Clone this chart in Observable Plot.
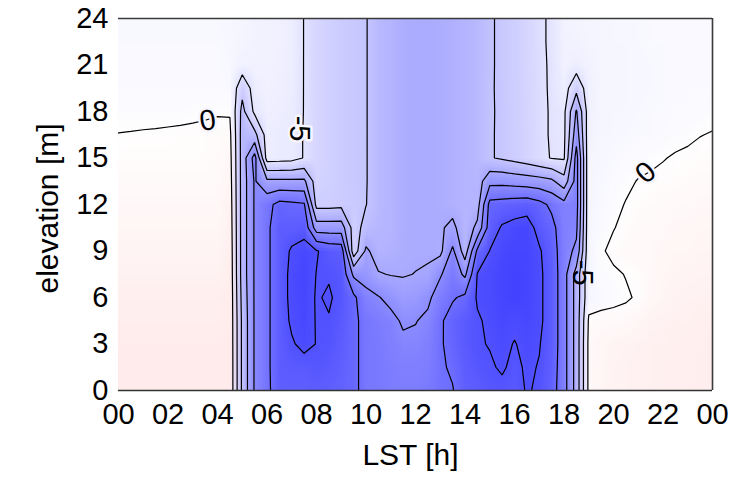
<!DOCTYPE html>
<html><head><meta charset="utf-8">
<script src="https://cdn.jsdelivr.net/npm/d3@7"></script>
<script src="https://cdn.jsdelivr.net/npm/@observablehq/plot@0.6"></script>
<style>
body{margin:0;background:#fff;}
</style></head><body><div id="chart"></div>
<script>
// time of day (LST, h) of each profile column
const hours = [0,0.5,1,1.5,2,2.5,3,3.5,4,4.5,5,5.5,6,6.5,7,7.5,8,8.5,9,9.5,10,10.5,11,11.5,12,12.5,13,13.5,14,14.5,15,15.5,16,16.5,17,17.5,18,18.5,19,19.5,20,20.5,21,21.5,22,22.5,23,23.5,24];
// elevation (m) of each profile level
const elevations = [0,1.5,3,4.5,6,7.5,9,10.5,12,13.5,15,16.5,18,19.5,21,22.5,24];
// one vertical profile (bottom -> top) per hour in `hours`
const profiles = [
/* 0   */ [3.5,3.4,3.2,3.0,2.7,2.3,1.9,1.5,1.2,0.9,0.6,0.05,-0.6,-0.8,-1.0,-1.1,-1.2],
/* 0.5 */ [3.5,3.4,3.2,3.0,2.7,2.3,1.9,1.5,1.2,0.9,0.6,0.1,-0.6,-0.8,-1.0,-1.1,-1.2],
/* 1   */ [3.5,3.4,3.2,3.0,2.7,2.3,1.9,1.5,1.2,0.9,0.6,0.15,-0.55,-0.8,-1.0,-1.1,-1.2],
/* 1.5 */ [3.5,3.4,3.2,3.0,2.7,2.3,1.9,1.5,1.2,0.9,0.6,0.2,-0.55,-0.8,-1.0,-1.1,-1.2],
/* 2   */ [3.5,3.4,3.2,3.0,2.7,2.3,1.9,1.5,1.2,0.9,0.6,0.25,-0.5,-0.8,-1.0,-1.1,-1.2],
/* 2.5 */ [3.5,3.4,3.2,3.0,2.7,2.3,1.9,1.5,1.2,0.9,0.6,0.3,-0.45,-0.8,-1.0,-1.1,-1.2],
/* 3   */ [3.5,3.4,3.2,3.0,2.7,2.3,1.9,1.5,1.2,0.9,0.6,0.4,-0.4,-0.8,-1.0,-1.1,-1.2],
/* 3.5 */ [3.5,3.4,3.2,3.0,2.7,2.3,1.9,1.5,1.2,0.9,0.6,0.5,-0.3,-0.8,-1.0,-1.1,-1.2],
/* 4   */ [3.5,3.4,3.2,3.0,2.7,2.3,1.9,1.5,1.2,0.9,0.7,0.7,-0.2,-0.8,-1.0,-1.1,-1.2],
/* 4.5 */ [3.5,3.5,3.4,3.3,3.2,3.0,2.8,2.5,2.2,1.8,1.4,0.9,-0.3,-1.0,-1.2,-1.3,-1.4],
/* 5   */ [-11,-11,-11,-11,-11.5,-12,-12,-12,-12,-12,-12,-12,-11.5,-8.5,-2.5,-1.8,-1.5],
/* 5.5 */ [-20.5,-20.5,-20.5,-20.5,-20.5,-20.5,-20.5,-20.5,-20.5,-20.5,-22,-11.5,-4,-3,-2.2,-2,-2],
/* 6   */ [-24,-24,-24,-24,-24,-24,-24,-24,-23.5,-16,-3,-3,-2.8,-2.5,-2.3,-2.2,-2.2],
/* 6.5 */ [-27.5,-28,-28,-28,-28,-28,-28,-28,-26.5,-16,-3.2,-3.2,-3,-2.8,-2.6,-2.5,-2.5],
/* 7   */ [-27.5,-28.5,-29.6,-30.6,-31,-31,-30.5,-28,-26,-16,-3.5,-3.5,-3.3,-3.1,-3,-2.9,-2.9],
/* 7.5 */ [-27.5,-28.5,-31,-31.5,-31.8,-32,-31.5,-28.5,-25.5,-16,-5.2,-5.2,-5.1,-5.1,-5.1,-5.1,-5.1],
/* 8   */ [-28,-29,-29.9,-29.8,-29.7,-29.9,-30.3,-17.5,-8.5,-7.5,-7,-7,-7,-7,-7,-7,-7],
/* 8.5 */ [-27.5,-28.5,-29.3,-29.8,-30.4,-29.7,-28.5,-17.5,-8.5,-8,-8,-8,-8,-8,-8,-8,-8],
/* 9   */ [-27,-27.5,-28,-28.5,-29,-28.8,-28,-17.5,-8.8,-8.8,-8.8,-8.8,-8.8,-8.8,-8.8,-8.8,-8.8],
/* 9.5 */ [-26,-26,-26,-26,-26,-19,-7,-8,-9,-9.4,-9.4,-9.4,-9.4,-9.4,-9.4,-9.4,-9.4],
/* 10  */ [-23.5,-23.5,-23.5,-23.5,-21.5,-18,-15.8,-11.5,-9.9,-9.8,-9.8,-9.8,-9.8,-9.8,-9.8,-9.8,-9.8],
/* 10.5*/ [-23,-23,-23,-22.5,-20.3,-15.3,-13,-12.5,-12,-12,-12,-12,-12,-12,-12,-12,-12],
/* 11  */ [-22.5,-22.5,-22,-21.5,-18.5,-14.8,-13.5,-13,-13,-13,-13,-13,-13,-13,-13,-13,-13],
/* 11.5*/ [-22.5,-22,-21,-19.3,-17,-14.7,-14,-14,-14,-14,-14,-14,-14,-14,-14,-14,-14],
/* 12  */ [-22.5,-22,-21,-19.8,-17.5,-15.1,-14.3,-14.5,-14.5,-14.5,-14.5,-14.5,-14.5,-14.5,-14.5,-14.5,-14.5],
/* 12.5*/ [-23,-22.5,-22,-21,-19,-15.6,-14.3,-14.5,-14.5,-14.5,-14.5,-14.5,-14.5,-14.5,-14.5,-14.5,-14.5],
/* 13  */ [-24.3,-24.5,-24.5,-24.3,-22.5,-19.5,-13.8,-14.5,-14,-14,-14,-14,-14,-14,-14,-14,-14],
/* 13.5*/ [-24.8,-25.5,-26.5,-27,-24.5,-23,-21,-16,-13.5,-13.5,-13.5,-13.5,-13.5,-13.5,-13.5,-13.5,-13.5],
/* 14  */ [-27.5,-28,-28.5,-28.5,-26,-19,-12.5,-12.5,-13,-13,-13,-13,-13,-13,-13,-13,-13],
/* 14.5*/ [-28,-29,-29.6,-29.5,-30.5,-30.2,-26,-16,-13,-12.5,-12,-12,-12,-12,-12,-12,-12],
/* 15  */ [-29,-29.5,-30.2,-30.8,-31,-31,-30.1,-27.5,-26.5,-18.5,-10.3,-10.3,-10.4,-10.4,-10.5,-10.5,-10.5],
/* 15.5*/ [-29,-30.5,-31,-31.5,-32,-32,-31.5,-30.5,-27,-18.5,-9.5,-9.5,-9.4,-9.3,-9.2,-9.2,-9.2],
/* 16  */ [-28.5,-29,-29.8,-31,-32.5,-32.5,-32,-31.5,-27.5,-18,-8.5,-8.5,-8.4,-8.3,-8.2,-8.2,-8.2],
/* 16.5*/ [-30.3,-30.6,-31,-31.5,-32,-32,-32,-32,-28,-17.5,-7.5,-7.4,-7.3,-7.2,-7.1,-7,-7],
/* 17  */ [-29.5,-29.8,-30.2,-30.8,-30.8,-30.8,-30.5,-28.5,-26.5,-17,-6,-6,-6,-5.9,-5.8,-5.7,-5.7],
/* 17.5*/ [-27,-27.5,-28,-28,-28,-28,-27.5,-26.5,-24,-16,-4.8,-4.6,-4.6,-4.5,-4.5,-4.4,-4.4],
/* 18  */ [-22,-22,-22,-22,-22,-22,-22,-22,-21.5,-12,-4.5,-4,-4,-3,-2.5,-2.2,-2],
/* 18.5*/ [-13,-13,-13,-13,-13,-13,-19,-21,-22,-22,-22,-18,-15.5,-8.5,-3,-2,-1.8],
/* 19  */ [1,1,1,0.5,-1.5,-1.5,-1.5,-1.5,-1.5,-1.5,-1.5,-2,-2.5,-2.5,-2,-1.8,-1.6],
/* 19.5*/ [1.5,1.5,1.4,0.8,-1,-0.7,-0.3,-0.8,-1,-1.2,-1.3,-1.4,-1.5,-1.6,-1.6,-1.5,-1.5],
/* 20  */ [2,2,1.9,0.8,-0.6,-0.4,0.6,-0.1,-0.5,-0.9,-1.1,-1.3,-1.4,-1.5,-1.5,-1.4,-1.4],
/* 20.5*/ [2.2,2.2,2.1,1.0,-0.3,0.1,0.8,0.6,0.1,-0.4,-0.9,-1.2,-1.3,-1.4,-1.4,-1.3,-1.3],
/* 21  */ [2.4,2.4,2.3,1.5,0.3,0.6,1.0,0.8,0.5,0.1,-0.7,-1.1,-1.2,-1.3,-1.3,-1.2,-1.2],
/* 21.5*/ [2.5,2.5,2.4,2.0,1.2,1.0,1.1,0.9,0.7,0.3,-0.4,-1.0,-1.1,-1.2,-1.2,-1.1,-1.1],
/* 22  */ [2.6,2.6,2.5,2.3,1.8,1.5,1.3,1.1,0.9,0.5,-0.1,-0.8,-1,-1.1,-1.1,-1,-1],
/* 22.5*/ [2.7,2.7,2.6,2.4,2.1,1.8,1.5,1.3,1.0,0.6,0.2,-0.6,-0.9,-1,-1,-1,-1],
/* 23  */ [2.8,2.8,2.7,2.5,2.2,1.9,1.6,1.4,1.1,0.7,0.4,-0.4,-0.8,-0.9,-1,-1,-1],
/* 23.5*/ [2.9,2.9,2.8,2.6,2.3,2.0,1.7,1.5,1.2,0.8,0.5,-0.05,-0.7,-0.9,-1,-1,-1],
/* 24  */ [3.0,3.0,2.9,2.7,2.4,2.1,1.8,1.5,1.2,0.9,0.6,0.1,-0.5,-0.8,-0.9,-1,-1]
];
const levels = [-30,-25,-20,-15,-10,-5,0];
const xTicks = [0,2,4,6,8,10,12,14,16,18,20,22,24];
const xTickLabels = ["00","02","04","06","08","10","12","14","16","18","20","22","00"];
const yTicks = [0,3,6,9,12,15,18,21,24];
const contourLabels = [
  {h: 3.6, m: 17.4, text: "0", rotate: -8, halo: true},
  {h: 7.3, m: 16.9, text: "-5", rotate: 90, halo: true},
  {h: 21.3, m: 14.05, text: "0", rotate: -42, halo: true},
  {h: 18.75, m: 7.6, text: "-5", rotate: 90, halo: false}
];

// grid (row-major, top row first) built from the profiles
const W = hours.length, H = elevations.length;
const grid = [];
for (let r = 0; r < H; r++) {
  const j = H - 1 - r;
  for (let c = 0; c < W; c++) grid.push(profiles[c][j]);
}
const dx = hours[1] - hours[0], dy = elevations[1] - elevations[0];
const bounds = {x1: hours[0] - dx / 2, x2: hours[W - 1] + dx / 2, y1: elevations[H - 1] + dy / 2, y2: elevations[0] - dy / 2};

const font = "'Liberation Sans', Arial, Helvetica, sans-serif";
const chart = Plot.plot({
  width: 745, height: 481,
  marginLeft: 118, marginRight: 33, marginTop: 18, marginBottom: 91,
  style: {fontFamily: font, fontSize: "29px", color: "#000", background: "#fff"},
  x: {domain: [0, 24]},
  y: {domain: [0, 24]},
  color: {type: "linear", domain: [-44, 0, 44], range: ["#0000ff", "#ffffff", "#ff0000"], interpolate: "rgb", clamp: true},
  marks: [
    Plot.raster(grid, {width: W, height: H, ...bounds, clip: true}),
    Plot.contour(grid, {width: W, height: H, ...bounds, thresholds: levels, stroke: "#000", strokeWidth: 1.2, fill: "none", clip: true}),
    Plot.ruleY([24], {stroke: "#3a3a3a", strokeWidth: 1.6}),
    Plot.ruleY([0], {stroke: "#333", strokeWidth: 1.6}),
    Plot.ruleX([24], {stroke: "#3a3a3a", strokeWidth: 1.6}),
    Plot.axisX({ticks: xTicks, tickFormat: d => xTickLabels[xTicks.indexOf(d)], tickSize: 0, tickPadding: 13, label: null}),
    Plot.axisY({ticks: yTicks, tickSize: 0, tickPadding: 10, label: null}),
    Plot.text(["LST [h]"], {frameAnchor: "bottom", dy: 65, dx: -5, lineAnchor: "middle", textAnchor: "middle", fontSize: 30}),
    Plot.text(["elevation [m]"], {frameAnchor: "left", dx: -70, dy: 4, rotate: -90, lineAnchor: "middle", textAnchor: "middle", fontSize: 30}),
    Plot.text(contourLabels.filter(d => d.halo), {x: "h", y: "m", text: "text", rotate: "rotate", fontSize: 29, fill: "#000", stroke: "#f7f5fd", strokeWidth: 5}),
    Plot.text(contourLabels.filter(d => !d.halo), {x: "h", y: "m", text: "text", rotate: "rotate", fontSize: 29, fill: "#000"})
  ]
});
document.getElementById("chart").append(chart);
</script></body></html>
